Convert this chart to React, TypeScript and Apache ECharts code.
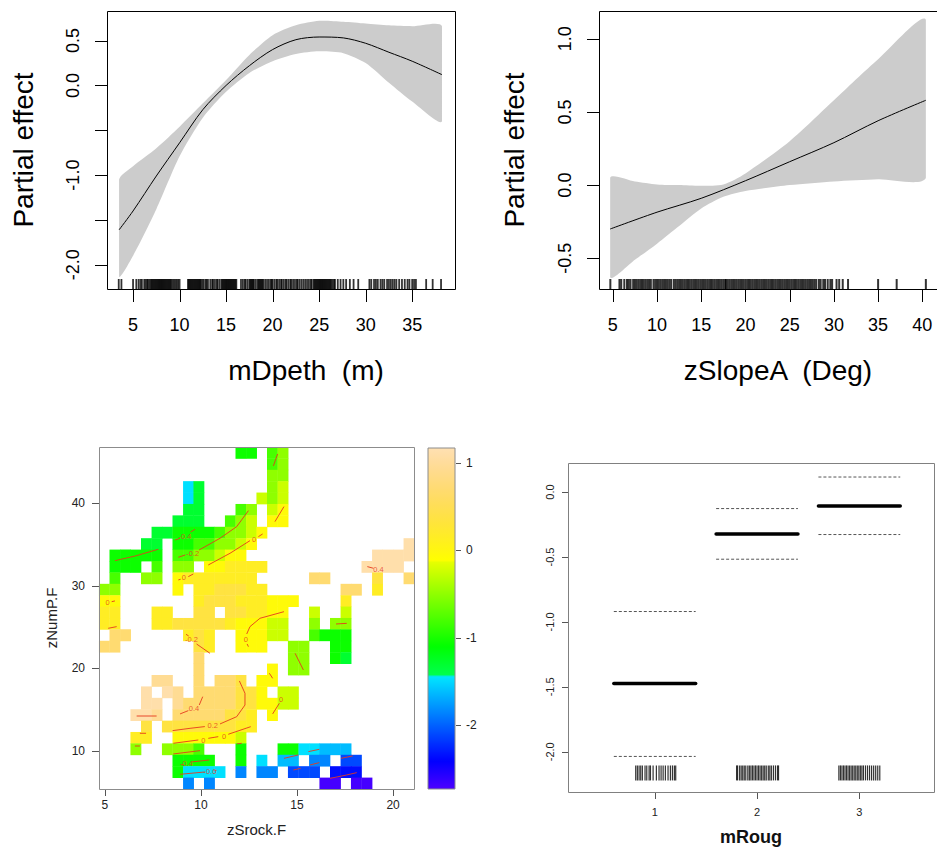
import React, { useEffect, useRef } from "react";
import * as echarts from "echarts";

const FONT = "'Liberation Sans', Arial, Helvetica, sans-serif";

// ---------- Panel 1: mDpeth ----------
const depthX = [3.5, 5, 7.5, 10, 12.5, 15, 17.5, 20, 22.5, 25, 27.6, 30, 32.5, 35, 38.2];
const depthFit = [-1.61, -1.4, -1.01, -0.64, -0.27, 0.0, 0.22, 0.4, 0.51, 0.54, 0.53, 0.47, 0.37, 0.27, 0.12];
const depthUpper = [-1.05, -0.9, -0.7, -0.46, -0.2, 0.06, 0.34, 0.56, 0.67, 0.72, 0.71, 0.69, 0.67, 0.66, 0.66];
const depthLower = [-2.13, -1.9, -1.38, -0.79, -0.36, -0.07, 0.14, 0.27, 0.35, 0.38, 0.36, 0.25, 0.03, -0.18, -0.4];
const depthRug = [
  3.46, 3.75, 5.0, 5.35, 5.6, 5.8, 5.95, 6.2, 6.35, 6.5, 6.6, 6.75, 6.9, 7.0, 7.1, 7.2, 7.3, 7.4, 7.5, 7.6,
  7.7, 7.8, 7.9, 8.0, 8.1, 8.2, 8.3, 8.4, 8.5, 8.6, 8.7, 8.8, 8.9, 9.0, 9.1, 9.25, 9.4, 9.55, 9.7, 9.85, 10.0,
  10.9, 11.0, 11.1, 11.2, 11.3, 11.4, 11.5, 11.6, 11.7, 11.8, 11.9, 12.0, 12.1, 12.2, 12.3, 12.45, 12.6, 12.8,
  12.9, 13.05, 13.3, 13.5, 13.6, 13.8, 14.0, 14.1, 14.3, 14.5, 14.6, 14.7, 14.8, 14.9, 15.0, 15.1, 15.2, 15.3,
  15.4, 15.5, 15.6, 15.7, 15.8, 15.9, 16.0, 16.1,
  16.6, 16.8, 17.0, 17.1, 17.3, 17.5, 17.6, 17.7, 17.8, 17.9, 18.0, 18.2, 18.4, 18.5, 18.6, 18.7, 18.8, 18.9,
  19.0, 19.2, 19.4, 19.6, 19.8, 19.9, 20.0, 20.2, 20.4, 20.5, 20.7, 20.9, 21.0, 21.2, 21.4, 21.5, 21.7, 21.9,
  22.0, 22.2, 22.4, 22.6, 22.7, 22.9, 23.1, 23.3, 23.5, 23.7, 23.9, 24.1, 24.2, 24.4, 24.5, 24.6, 24.7, 24.8,
  24.9, 25.0, 25.1, 25.2, 25.3, 25.4, 25.5, 25.6, 25.7, 25.8, 25.9, 26.0, 26.1, 26.2, 26.3, 26.45, 26.6, 26.7,
  27.0, 27.3, 27.6, 27.9, 28.3, 28.7, 29.2,
  30.4, 30.6, 30.9, 31.1, 31.3, 31.6, 31.8, 32.0, 32.3, 32.5, 32.7, 32.9, 33.1, 33.3, 33.6, 33.9, 34.2, 34.5,
  34.7, 35.0, 35.2, 35.4, 36.5, 37.2, 38.1,
];
const depthXTicks = [5, 10, 15, 20, 25, 30, 35];
const depthYTicks = [-2, -1.5, -1, -0.5, 0, 0.5];
const depthYLabels = [-2, -1, 0, 0.5];

// ---------- Panel 2: zSlopeA ----------
const slopeX = [4.7, 10, 15, 20, 25, 30, 35, 40.4];
const slopeFit = [-0.3, -0.185, -0.09, 0.03, 0.16, 0.29, 0.44, 0.58];
const slopeBandX = [4.7, 7.5, 10, 12.5, 15, 17.5, 20, 25, 30, 35, 40.4];
const slopeUpper = [0.05, 0.025, 0.005, 0.0, -0.005, 0.005, 0.08, 0.3, 0.58, 0.86, 1.13];
const slopeLower = [-0.63, -0.51, -0.4, -0.28, -0.16, -0.08, -0.04, 0.0, 0.025, 0.04, 0.05];
const slopeRug = [
  4.72, 5.75, 5.95, 6.3, 6.6, 6.8, 7.0, 7.3, 7.5, 7.7, 7.9, 8.1, 8.3, 8.5, 8.7, 8.9, 9.1, 9.3, 9.6, 9.8, 10.0,
  10.2, 10.4, 10.6, 10.8, 11.0, 11.2, 11.4, 11.6, 11.9, 12.1, 12.3, 12.5, 12.7, 12.9, 13.1, 13.3, 13.5, 13.7,
  13.9, 14.1, 14.3, 14.5, 14.7, 14.9, 15.1, 15.3, 15.5, 15.7, 15.9, 16.1, 16.3, 16.5, 16.7, 16.9, 17.1, 17.3,
  17.5, 17.7, 17.8, 18.0, 18.2, 18.4, 18.6, 18.8, 19.0, 19.2, 19.4, 19.6, 19.8, 20.0, 20.2, 20.4, 20.6, 20.8,
  21.0, 21.2, 21.4, 21.6, 21.8, 22.0, 22.2, 22.4, 22.6, 22.8, 23.0, 23.2, 23.4, 23.6, 23.8, 24.0, 24.2, 24.4,
  24.6, 24.8, 25.0, 25.2, 25.4, 25.6, 25.8, 26.0, 26.2, 26.4, 26.6, 26.8, 27.0, 27.2, 27.4, 27.6, 27.8, 28.0,
  28.3, 28.5, 28.8, 29.0, 29.3, 29.6, 29.8, 30.3, 30.6, 31.0, 31.6, 35.0, 37.1, 40.4,
];
const slopeXTicks = [5, 10, 15, 20, 25, 30, 35, 40];
const slopeYTicks = [-0.5, 0, 0.5, 1];

// ---------- Panel 3: zSrock.F x zNumP.F heat map ----------
const gridX = [4.96, 5.51, 6.06, 6.6, 7.15, 7.7, 8.24, 8.79, 9.34, 9.88, 10.43, 10.98, 11.52, 12.07, 12.62,
  13.16, 13.71, 14.26, 14.8, 15.35, 15.9, 16.44, 16.99, 17.54, 18.08, 18.63, 19.18, 19.72, 20.27, 20.82];
const gridY = [46.08, 44.7, 43.32, 41.95, 40.57, 39.19, 37.81, 36.43, 35.05, 33.67, 32.29, 30.91, 29.53, 28.15,
  26.78, 25.4, 24.02, 22.64, 21.26, 19.88, 18.5, 17.12, 15.74, 14.36, 12.98, 11.61, 10.23, 8.85, 7.47, 6.09];
const heatCellW = 0.547;
const heatCellH = 1.379;
// one character per cell, '.' = no prediction (too far from data)
const heatLevels: Record<string, number> = {
  P: -2.7, B: -2.35, b: -2.1, L: -1.85, l: -1.62, C: -1.47, G: -1.3, g: -1.05, h: -0.8, Y: -0.5, y: -0.25,
  W: -0.05, o: 0.15, O: 0.35, p: 0.7, q: 0.95, Q: 1.12,
};
const heatRows = [
  ".............gg.hY............",
  "................hY............",
  "................YY............",
  "........CG......Yy............",
  "........CG.....yYy............",
  "........GG...hY.yW............",
  ".......GGG..hYy.WW............",
  ".....GGgggghYYyW..............",
  "....GG.gghhYYyW..............Q",
  ".ggggg.hhYYyWW............QQQQ",
  ".ggg.h.YY.WWoooo.........QQQQ.",
  ".h..YY.Wooooooo.....pp....O..p",
  "YY.....W.ooOOOoo.......pp.o...",
  "WW.......oOOOoooWWW....o......",
  "oo...oo..OO.OOooWW..y..y......",
  "oo...ooOOOOOoWWWyy..Y.YY......",
  ".pp.....oOo..WWWyy..hggg......",
  "pp.......Oo..WWW..YY..gg......",
  ".........p........YY..gG......",
  ".........p......W.YY..........",
  ".....qq..p.ppO.WW.............",
  "....Q.Qq.ppppOOW.yy...........",
  "....QQ.qpppppOOWWyy...........",
  "...QQq.pppppOOo.W.............",
  "....O.OOOOOOOoo...............",
  "...oo..WWWWWWy................",
  "...Y..YYYh...g...ggCClll......",
  ".......gggg..g.C.ll.LL.bb.....",
  ".......gCCCC.L.LL.bbb.BBB.....",
  "........L.L..........PP.PP....",
];
const heatMin = -2.73;
const heatMax = 1.17;
const heatXTicks = [5, 10, 15, 20];
const heatYTicks = [10, 20, 30, 40];
const colorbarTicks = [-2, -1, 0, 1];
const contourLines: number[][][] = [
  [[13.99, 45.93], [13.77, 44.48]],
  [[14.32, 39.56], [13.85, 37.74]],
  [[5.52, 33.02], [6.6, 33.6], [7.78, 34.4]],
  [[8.65, 35.52], [8.91, 35.73]],
  [[9.46, 36.49], [9.69, 36.81]],
  [[8.82, 33.43], [9.18, 33.71]],
  [[9.9, 34.31], [10.99, 35.73], [11.86, 37.14], [12.47, 39.07]],
  [[10.38, 32.5], [11.51, 33.91], [12.55, 35.44]],
  [[12.99, 35.93], [13.21, 36.25]],
  [[8.82, 30.69], [8.94, 30.77]],
  [[9.34, 31.09], [9.6, 31.41]],
  [[5.35, 28.06], [5.52, 28.15]],
  [[5.17, 24.84], [5.61, 25.04]],
  [[9.22, 24.11], [9.36, 23.91]],
  [[9.77, 22.94], [10.47, 21.81]],
  [[12.47, 22.62], [12.4, 22.95]],
  [[12.38, 24.15], [12.55, 25.04], [13.07, 26.05], [14.32, 26.85]],
  [[14.9, 21.81], [15.33, 19.8]],
  [[17.03, 25.36], [17.59, 25.44]],
  [[18.66, 32.3], [18.98, 32.1]],
  [[13.56, 19.4], [13.73, 18.79]],
  [[8.52, 12.46], [9.43, 12.74], [10.2, 12.95]],
  [[10.99, 13.27], [11.86, 14.15], [12.29, 15.56], [12.29, 16.98], [12.0, 18.47]],
  [[8.91, 14.48], [9.34, 14.88]],
  [[9.91, 15.56], [10.09, 16.57]],
  [[6.65, 14.23], [7.69, 14.23]],
  [[6.82, 12.14], [7.14, 12.14]],
  [[6.56, 10.6], [6.82, 10.6]],
  [[8.56, 10.93], [9.86, 11.33]],
  [[10.38, 11.53], [10.9, 11.73]],
  [[11.42, 12.02], [12.59, 12.94]],
  [[11.86, 10.85], [12.12, 10.93]],
  [[8.56, 9.64], [9.95, 10.04]],
  [[8.99, 8.31], [9.08, 8.36]],
  [[9.51, 8.67], [10.43, 8.91]],
  [[8.91, 7.18], [10.21, 7.46]],
  [[10.73, 7.62], [10.8, 7.64]],
  [[14.32, 9.11], [15.07, 9.52]],
  [[15.59, 9.92], [16.16, 10.2]],
  [[14.81, 7.7], [15.19, 7.9]],
  [[15.68, 8.31], [16.16, 8.59]],
  [[17.29, 9.11], [17.9, 9.4]],
  [[16.72, 6.69], [17.59, 7.1], [18.11, 7.38]],
  [[13.73, 14.48], [14.08, 15.77]],
];
const contourLabels: [number, number, string][] = [
  [9.17, 36.0, "-0.4"], [9.57, 33.91, "-0.2"], [12.76, 35.6, "0"], [9.11, 30.93, "0"], [5.14, 27.94, "0"],
  [9.51, 23.43, "-0.2"], [12.33, 23.51, "0"], [19.24, 31.98, "0.4"], [9.64, 15.16, "0.4"], [10.61, 13.06, "0.2"],
  [10.12, 11.25, "0"], [11.2, 11.81, "0"], [9.25, 8.51, "-0.4"], [10.47, 7.5, "-0.6"], [14.17, 16.25, "0"],
];

// ---------- Panel 4: mRoug ----------
const roughLevels = [1, 2, 3];
const roughFit = [-1.475, -0.322, -0.108];
const roughUpper = [-0.92, -0.127, 0.116];
const roughLower = [-2.036, -0.517, -0.327];
const roughRug = [
  0.814, 0.83, 0.847, 0.863, 0.879, 0.905, 0.922, 0.945, 0.958, 0.984, 1.016, 1.042, 1.062, 1.082, 1.104,
  1.13, 1.153, 1.173, 1.192, 1.205,
  1.8, 1.81, 1.83, 1.845, 1.86, 1.875, 1.89, 1.91, 1.925, 1.94, 1.955, 1.97, 1.985, 2.0, 2.015, 2.03, 2.045,
  2.06, 2.075, 2.09, 2.11, 2.125, 2.14, 2.16, 2.18, 2.2, 2.21,
  2.8, 2.815, 2.83, 2.845, 2.86, 2.875, 2.89, 2.905, 2.92, 2.935, 2.95, 2.965, 2.98, 2.995, 3.01, 3.025, 3.04,
  3.06, 3.08, 3.1, 3.12, 3.14, 3.16, 3.18, 3.2,
];
const roughXTicks = [1, 2, 3];
const roughYTicks = [-2, -1.5, -1, -0.5, 0];

// plot-box data extents
const ext: Record<string, { x: number[]; y: number[] }> = {
  depth: { x: [2.2, 39.6], y: [-2.27, 0.83] },
  slope: { x: [3.41, 41.66], y: [-0.71, 1.19] },
  heat: { x: [4.69, 21.09], y: [5.4, 46.77] },
  bar: { x: [0, 1], y: [heatMin, heatMax] },
  rough: { x: [0.152, 3.73], y: [-2.31, 0.224] },
};
// plot-box layout (pixels) and room kept inside each grid for the outward ticks
const layout: Record<string, { x: number; y: number; w: number; h: number; pl: number; pb: number; pr: number }> = {
  depth: { x: 107, y: 11, w: 348, h: 278, pl: 12, pb: 12, pr: 0 },
  slope: { x: 599, y: 11, w: 345, h: 278, pl: 12, pb: 12, pr: 0 },
  heat: { x: 99, y: 447, w: 315, h: 342, pl: 7, pb: 6, pr: 0 },
  bar: { x: 428, y: 448, w: 27, h: 341, pl: 0, pb: 0, pr: 6 },
  rough: { x: 568, y: 463, w: 366, h: 329, pl: 6, pb: 6, pr: 0 },
};
const panelOrder = ["depth", "slope", "heat", "bar", "rough"];

function axisRange(name: string) {
  const L = layout[name], e = ext[name];
  const ux = (e.x[1] - e.x[0]) / L.w, uy = (e.y[1] - e.y[0]) / L.h;
  return { x: [e.x[0] - L.pl * ux, e.x[1] + L.pr * ux], y: [e.y[0] - L.pb * uy, e.y[1]] };
}

// ---------- helpers ----------
function hsvHex(h: number, s: number, v: number) {
  const h6 = h * 6;
  const i = Math.floor(h6) % 6;
  const f = h6 - Math.floor(h6);
  const p = v * (1 - s), q = v * (1 - f * s), t = v * (1 - (1 - f) * s);
  const rgb = [[v, t, p], [q, v, p], [p, v, t], [p, q, v], [t, p, v], [v, p, q]][i];
  return "#" + rgb.map((x) => Math.round(x * 255).toString(16).padStart(2, "0")).join("");
}
// R's topo.colors()
function topoColors(n: number) {
  const j = Math.floor(n / 3), k = Math.floor(n / 3), i = n - j - k;
  const seq = (a: number, b: number, m: number, t: number) => (m === 1 ? a : a + ((b - a) * t) / (m - 1));
  const out: string[] = [];
  for (let t = 0; t < i; t++) out.push(hsvHex(seq(43 / 60, 31 / 60, i, t), 1, 1));
  for (let t = 0; t < j; t++) out.push(hsvHex(seq(23 / 60, 11 / 60, j, t), 1, 1));
  for (let t = 0; t < k; t++) out.push(hsvHex(seq(10 / 60, 6 / 60, k, t), seq(1, 0.3, k, t), 1));
  return out;
}

function bandSeries(xs: number[], up: number[], lo: number[], idx: number) {
  return {
    type: "custom", xAxisIndex: idx, yAxisIndex: idx, silent: true, z: 1,
    data: [[xs[0], up[0]]],
    renderItem: (_p: any, api: any) => {
      const pts: number[][] = [];
      xs.forEach((x, i) => pts.push(api.coord([x, up[i]])));
      for (let i = xs.length - 1; i >= 0; i--) pts.push(api.coord([xs[i], lo[i]]));
      const px = pts.map((p) => p[0]);
      const py = pts.map((p) => p[1]);
      return {
        type: "polygon",
        shape: {
          points: pts, smooth: 0.25,
          smoothConstraint: [[Math.min(...px), Math.min(...py) - 40], [Math.max(...px), Math.max(...py) + 40]],
        },
        style: { fill: "#cccccc" },
      };
    },
  };
}

function rugSeries(values: number[], idx: number, yPos: number, len: number, offset: number, w: number) {
  return {
    type: "scatter", xAxisIndex: idx, yAxisIndex: idx, silent: true, clip: false, z: 4,
    symbol: "rect", symbolSize: [w, len], symbolOffset: [0, offset],
    itemStyle: { color: "#000" },
    data: values.map((v) => [v, yPos]),
  };
}

type TickSpec = { dir: "x" | "yl" | "yr"; values: number[]; len: number; color: string };

// plot box plus outward tick marks (drawn as thin filled rects)
function frameSeries(idx: number, e: { x: number[]; y: number[] }, boxColor: string | null, ticks: TickSpec[]) {
  return {
    type: "custom", xAxisIndex: idx, yAxisIndex: idx, silent: true, z: 7,
    data: [[e.x[0], e.y[0]]],
    renderItem: (_p: any, api: any) => {
      const children: any[] = [];
      if (boxColor) {
        const a = api.coord([e.x[0], e.y[1]]);
        const b = api.coord([e.x[1], e.y[0]]);
        const x0 = Math.round(a[0]) + 0.5, y0 = Math.round(a[1]) + 0.5;
        const x1 = Math.round(b[0]) + 0.5, y1 = Math.round(b[1]) + 0.5;
        children.push({
          type: "rect", shape: { x: x0, y: y0, width: x1 - x0, height: y1 - y0 },
          style: { fill: "none", stroke: boxColor, lineWidth: 1 },
        });
      }
      ticks.forEach((t) => {
        t.values.forEach((v) => {
          if (t.dir === "x") {
            const p = api.coord([v, e.y[0]]);
            children.push({
              type: "rect", shape: { x: Math.round(p[0]), y: Math.round(p[1]) + 1, width: 1, height: t.len },
              style: { fill: t.color },
            });
          } else if (t.dir === "yl") {
            const p = api.coord([e.x[0], v]);
            children.push({
              type: "rect", shape: { x: Math.round(p[0]) - t.len, y: Math.round(p[1]), width: t.len, height: 1 },
              style: { fill: t.color },
            });
          } else {
            const p = api.coord([e.x[1], v]);
            children.push({
              type: "rect", shape: { x: Math.round(p[0]) + 1, y: Math.round(p[1]), width: t.len, height: 1 },
              style: { fill: t.color },
            });
          }
        });
      });
      return { type: "group", children };
    },
  };
}

const topLabel = { color: "#000", fontSize: 18, fontFamily: FONT };
const topName = { color: "#000", fontSize: 28, fontFamily: FONT };
const smallLabel = { color: "#222", fontFamily: FONT };
const noLine = () => ({ show: false, onZero: false });
const noTick = () => ({ show: false });

function buildOption() {
  const topo = topoColors(150);
  const R: Record<string, { x: number[]; y: number[] }> = {};
  panelOrder.forEach((n) => (R[n] = axisRange(n)));

  const heatData: number[][] = [];
  heatRows.forEach((row, r) => {
    for (let c = 0; c < row.length && c < gridX.length; c++) {
      const ch = row[c];
      if (ch !== "." && heatLevels[ch] !== undefined) heatData.push([gridX[c], gridY[r], heatLevels[ch]]);
    }
  });

  const series: any[] = [];
  // Panel 1
  series.push(bandSeries(depthX, depthUpper, depthLower, 0));
  series.push({
    type: "line", xAxisIndex: 0, yAxisIndex: 0, data: depthX.map((x, i) => [x, depthFit[i]]),
    smooth: 0.3, symbol: "none", silent: true, z: 3, lineStyle: { color: "#000", width: 1 },
  });
  series.push(rugSeries(depthRug, 0, ext.depth.y[0], 10, -5, 1.8));
  // Panel 2
  series.push(bandSeries(slopeBandX, slopeUpper, slopeLower, 1));
  series.push({
    type: "line", xAxisIndex: 1, yAxisIndex: 1, data: slopeX.map((x, i) => [x, slopeFit[i]]),
    smooth: 0.3, symbol: "none", silent: true, z: 3, lineStyle: { color: "#000", width: 1 },
  });
  series.push(rugSeries(slopeRug, 1, ext.slope.y[0], 10, -5, 2));
  // Panel 3 heat cells
  const heatIndex = series.length;
  series.push({
    type: "custom", xAxisIndex: 2, yAxisIndex: 2, silent: true, z: 2,
    encode: { x: 0, y: 1 },
    data: heatData,
    renderItem: (_p: any, api: any) => {
      const x = api.value(0), y = api.value(1);
      const a = api.coord([x - heatCellW / 2, y + heatCellH / 2]);
      const b = api.coord([x + heatCellW / 2, y - heatCellH / 2]);
      return {
        type: "rect",
        shape: { x: a[0], y: a[1], width: b[0] - a[0] + 0.4, height: b[1] - a[1] + 0.4 },
        style: { fill: api.visual("color") },
      };
    },
  });
  contourLines.forEach((ln) => {
    series.push({
      type: "line", xAxisIndex: 2, yAxisIndex: 2, data: ln, symbol: "none", silent: true, z: 5,
      lineStyle: { color: "#e5391e", width: 0.9 },
    });
  });
  series.push({
    type: "scatter", xAxisIndex: 2, yAxisIndex: 2, silent: true, z: 6, symbolSize: 1,
    itemStyle: { color: "rgba(0,0,0,0)" },
    data: contourLabels.map((d) => ({ value: [d[0], d[1]], name: d[2] })),
    label: { show: true, position: "inside", formatter: "{b}", color: "#e5391e", fontSize: 7.5, fontFamily: FONT },
  });
  // Panel 4
  series.push({
    type: "custom", xAxisIndex: 4, yAxisIndex: 4, silent: true, z: 3,
    data: [...roughLevels.map((l, i) => [l, roughUpper[i]]), ...roughLevels.map((l, i) => [l, roughLower[i]])],
    renderItem: (_p: any, api: any) => {
      const l = api.value(0), v = api.value(1);
      const a = api.coord([l - 0.4, v]);
      const b = api.coord([l + 0.4, v]);
      return {
        type: "line", shape: { x1: a[0], y1: a[1], x2: b[0], y2: b[1] },
        style: { stroke: "#555", lineWidth: 1, lineDash: [3, 2] },
      };
    },
  });
  series.push({
    type: "custom", xAxisIndex: 4, yAxisIndex: 4, silent: true, z: 4,
    data: roughLevels.map((l, i) => [l, roughFit[i]]),
    renderItem: (_p: any, api: any) => {
      const l = api.value(0), v = api.value(1);
      const a = api.coord([l - 0.4, v]);
      const b = api.coord([l + 0.4, v]);
      return {
        type: "line", shape: { x1: a[0], y1: a[1], x2: b[0], y2: b[1] },
        style: { stroke: "#000", lineWidth: 3.5, lineCap: "round" },
      };
    },
  });
  series.push(rugSeries(roughRug, 4, -2.163, 15, 0, 1.2));

  // plot boxes and tick marks
  series.push(frameSeries(0, ext.depth, "#000", [
    { dir: "x", values: depthXTicks, len: 12, color: "#000" },
    { dir: "yl", values: depthYTicks, len: 12, color: "#000" },
  ]));
  series.push(frameSeries(1, ext.slope, "#000", [
    { dir: "x", values: slopeXTicks, len: 12, color: "#000" },
    { dir: "yl", values: slopeYTicks, len: 12, color: "#000" },
  ]));
  series.push(frameSeries(2, ext.heat, "#8c8c8c", [
    { dir: "x", values: heatXTicks, len: 6, color: "#555" },
    { dir: "yl", values: heatYTicks, len: 7, color: "#555" },
  ]));
  series.push(frameSeries(3, ext.bar, null, [{ dir: "yr", values: colorbarTicks, len: 5, color: "#555" }]));
  series.push(frameSeries(4, ext.rough, "#808080", [
    { dir: "x", values: roughXTicks, len: 6, color: "#555" },
    { dir: "yl", values: roughYTicks, len: 6, color: "#555" },
  ]));

  const colorStops = topo.map((c, i) => ({ offset: i / (topo.length - 1), color: c }));
  const grids = panelOrder.map((n) => {
    const L = layout[n];
    return { left: L.x - L.pl, top: L.y, width: L.w + L.pl + L.pr, height: L.h + L.pb, show: false };
  });

  return {
    animation: false,
    backgroundColor: "#fff",
    textStyle: { fontFamily: FONT },
    grid: grids,
    visualMap: [
      {
        type: "continuous", show: false, seriesIndex: heatIndex, dimension: 2,
        min: heatMin, max: heatMax, inRange: { color: topo },
      },
    ],
    graphic: [
      {
        type: "rect", z: 10, silent: true,
        shape: { x: layout.bar.x, y: layout.bar.y, width: layout.bar.w, height: layout.bar.h },
        style: {
          fill: { type: "linear", x: 0, y: 1, x2: 0, y2: 0, colorStops },
          stroke: "#8c8c8c", lineWidth: 1,
        },
      },
    ],
    xAxis: [
      {
        gridIndex: 0, type: "value", min: R.depth.x[0], max: R.depth.x[1],
        axisLine: noLine(), axisTick: noTick(), splitLine: { show: false },
        axisLabel: { ...topLabel, margin: 15, customValues: depthXTicks, formatter: (v: number) => String(v) },
        name: "mDpeth  (m)", nameLocation: "middle", nameGap: 55,
        nameTextStyle: { ...topName, padding: [0, 0, 0, 62] },
      },
      {
        gridIndex: 1, type: "value", min: R.slope.x[0], max: R.slope.x[1],
        axisLine: noLine(), axisTick: noTick(), splitLine: { show: false },
        axisLabel: { ...topLabel, margin: 15, customValues: slopeXTicks, formatter: (v: number) => String(v) },
        name: "zSlopeA  (Deg)", nameLocation: "middle", nameGap: 55,
        nameTextStyle: { ...topName, padding: [0, 0, 0, 32] },
      },
      {
        gridIndex: 2, type: "value", min: R.heat.x[0], max: R.heat.x[1],
        axisLine: noLine(), axisTick: noTick(), splitLine: { show: false },
        axisLabel: { ...smallLabel, fontSize: 12, margin: 4, customValues: heatXTicks, formatter: (v: number) => String(v) },
        name: "zSrock.F", nameLocation: "middle", nameGap: 27,
        nameTextStyle: { ...smallLabel, fontSize: 15, padding: [0, 0, 0, 7] },
      },
      { gridIndex: 3, type: "value", min: R.bar.x[0], max: R.bar.x[1], show: false },
      {
        gridIndex: 4, type: "value", min: R.rough.x[0], max: R.rough.x[1],
        axisLine: noLine(), axisTick: noTick(), splitLine: { show: false },
        axisLabel: { ...smallLabel, fontSize: 11, margin: 8, customValues: roughXTicks, formatter: (v: number) => String(v) },
        name: "mRoug", nameLocation: "middle", nameGap: 30,
        nameTextStyle: { ...smallLabel, color: "#111", fontSize: 18, fontWeight: "bold", padding: [0, 0, 0, 6] },
      },
    ],
    yAxis: [
      {
        gridIndex: 0, type: "value", min: R.depth.y[0], max: R.depth.y[1],
        axisLine: noLine(), axisTick: noTick(), splitLine: { show: false },
        axisLabel: { ...topLabel, rotate: 90, margin: 13, customValues: depthYLabels, formatter: (v: number) => v.toFixed(1) },
        name: "Partial effect", nameLocation: "middle", nameGap: 58,
        nameTextStyle: { ...topName, padding: [0, 0, 0, 12] },
      },
      {
        gridIndex: 1, type: "value", min: R.slope.y[0], max: R.slope.y[1],
        axisLine: noLine(), axisTick: noTick(), splitLine: { show: false },
        axisLabel: { ...topLabel, rotate: 90, margin: 13, customValues: slopeYTicks, formatter: (v: number) => v.toFixed(1) },
        name: "Partial effect", nameLocation: "middle", nameGap: 59,
        nameTextStyle: { ...topName, padding: [0, 0, 0, 12] },
      },
      {
        gridIndex: 2, type: "value", min: R.heat.y[0], max: R.heat.y[1],
        axisLine: noLine(), axisTick: noTick(), splitLine: { show: false },
        axisLabel: { ...smallLabel, fontSize: 12, margin: 7, customValues: heatYTicks, formatter: (v: number) => String(v) },
        name: "zNumP.F", nameLocation: "middle", nameGap: 33,
        nameTextStyle: { ...smallLabel, fontSize: 15, padding: [0, 0, 0, 6] },
      },
      {
        gridIndex: 3, type: "value", position: "right", min: R.bar.y[0], max: R.bar.y[1],
        axisLine: noLine(), axisTick: noTick(), splitLine: { show: false },
        axisLabel: { ...smallLabel, fontSize: 12, margin: 5, customValues: colorbarTicks, formatter: (v: number) => String(v) },
      },
      {
        gridIndex: 4, type: "value", min: R.rough.y[0], max: R.rough.y[1],
        axisLine: noLine(), axisTick: noTick(), splitLine: { show: false },
        axisLabel: { ...smallLabel, fontSize: 11, rotate: 90, margin: 7, customValues: roughYTicks, formatter: (v: number) => v.toFixed(1) },
      },
    ],
    series,
  };
}

export default function App() {
  const ref = useRef<HTMLDivElement>(null);
  useEffect(() => {
    document.body.style.margin = "0";
    const chart = echarts.init(ref.current as HTMLDivElement, null, { renderer: "svg" });
    chart.setOption(buildOption() as any);
    return () => chart.dispose();
  }, []);
  return <div ref={ref} style={{ width: 937, height: 847 }} />;
}
